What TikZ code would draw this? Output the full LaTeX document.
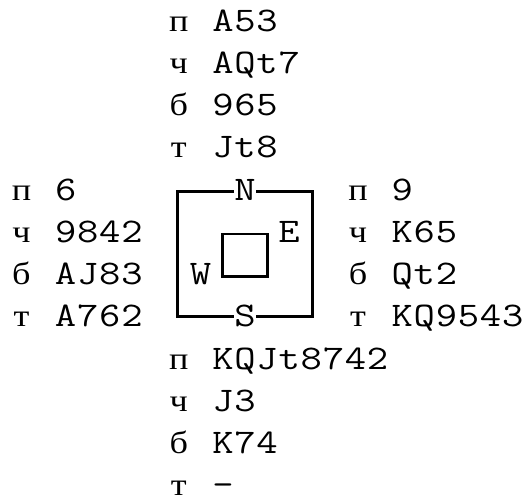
\documentclass[tikz,border=0pt]{standalone}
\usepackage{fontspec}
\setmonofont[FakeStretch=1.2]{Latin Modern Mono}
\newfontfamily\suitfont[FakeStretch=1.15]{Liberation Serif}
\def\cardrow#1{\cardloop#1\relax}
\def\cardloop#1{\ifx#1\relax\else\hbox to 22.1pt{\hss#1\hss}\expandafter\cardloop\fi}
\newcommand\handrow[2]{\hbox to 22.1pt{\hss{\suitfont\fontsize{31.5}{40}\selectfont #1}\hss}\hbox to 22.1pt{}\cardrow{#2}}
\begin{document}
\begin{tikzpicture}[x=1pt,y=-1pt,
  hand/.style={anchor=base west, inner sep=0pt, text depth=0pt, font=\ttfamily\fontsize{34.5}{42}\selectfont},
  dir/.style={anchor=base, inner ysep=0pt, inner xsep=1pt, text depth=0pt, font=\ttfamily\fontsize{34.5}{42}\selectfont},
  boxline/.style={line width=2.6pt, line cap=rect},
  vline/.style={line width=2.6pt}]
\useasboundingbox (0,0) rectangle (526,499);
% North hand
\node[hand] (n1) at (167.5,31) {\handrow{п}{A53}};
\node[hand] (n2) at (167.5,73.25) {\handrow{ч}{AQt7}};
\node[hand] (n3) at (167.5,115.5) {\handrow{б}{965}};
\node[hand] (n4) at (167.5,157.75) {\handrow{т}{Jt8}};
% West hand
\node[hand] (w1) at (10.2,200) {\handrow{п}{6}};
\node[hand] (w2) at (10.2,242.25) {\handrow{ч}{9842}};
\node[hand] (w3) at (10.2,284.5) {\handrow{б}{AJ83}};
\node[hand] (w4) at (10.2,326.75) {\handrow{т}{A762}};
% East hand
\node[hand] (e1) at (346.8,200) {\handrow{п}{9}};
\node[hand] (e2) at (346.8,242.25) {\handrow{ч}{K65}};
\node[hand] (e3) at (346.8,284.5) {\handrow{б}{Qt2}};
\node[hand] (e4) at (346.8,326.75) {\handrow{т}{KQ9543}};
% South hand
\node[hand] (s1) at (167.5,369) {\handrow{п}{KQJt8742}};
\node[hand] (s2) at (167.5,411.25) {\handrow{ч}{J3}};
\node[hand] (s3) at (167.5,453.5) {\handrow{б}{K74}};
\node[hand] (s4) at (167.5,495.2) {\handrow{т}{-}};
% Compass labels
\node[dir] (N) at (245,200) {\cardrow{N}};
\node[dir] (S) at (245,326.75) {\cardrow{S}};
\node[dir] (E) at (289,242.25) {\cardrow{E}};
\node[dir] (W) at (200.5,284.5) {\cardrow{W}};
% outer frame
\coordinate (tl) at (177.3,191.7);
\coordinate (tr) at (312.2,191.7);
\coordinate (bl) at (177.3,316.7);
\coordinate (br) at (312.2,316.7);
\coordinate (gl1) at (177.3,211.2);
\coordinate (gl2) at (177.3,213.2);
\coordinate (gr1) at (312.2,211.2);
\coordinate (gr2) at (312.2,213.2);
\draw[boxline] (tl -| N.west) -- (tl) -- (gl1);
\draw[boxline] (gl2) -- (bl) -- (bl -| S.west);
\draw[boxline] (tr -| N.east) -- (tr) -- (gr1);
\draw[boxline] (gr2) -- (br) -- (br -| S.east);
% inner table
\coordinate (itl) at (222.3,234);
\coordinate (ibr) at (267.7,276.7);
\draw[line width=2.6pt] (itl) rectangle (ibr);
\end{tikzpicture}
\end{document}
